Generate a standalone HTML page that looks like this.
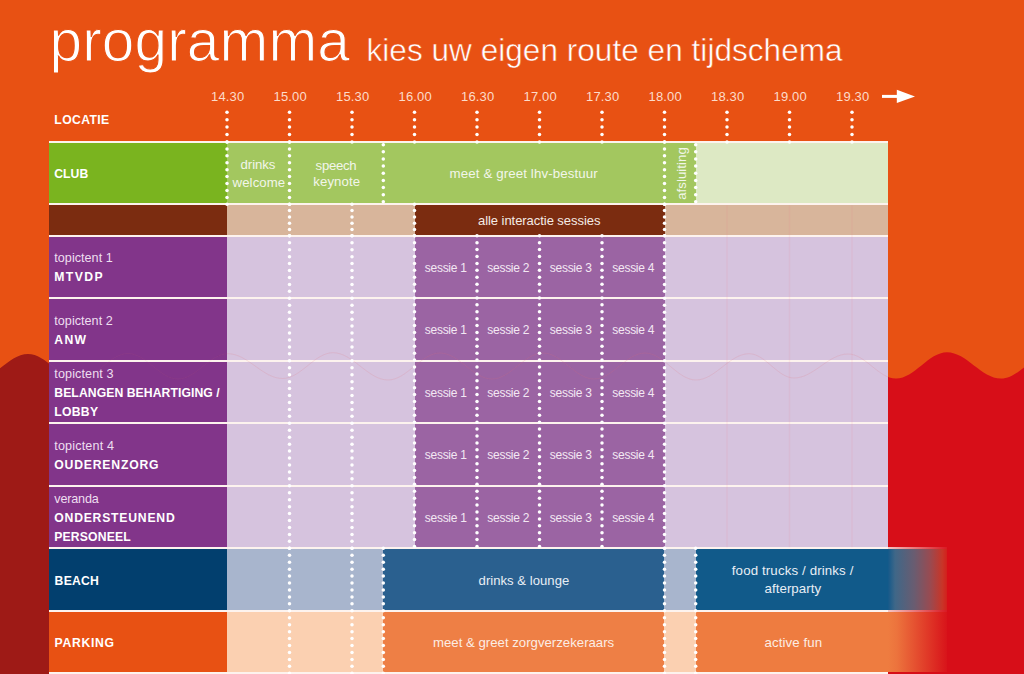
<!DOCTYPE html>
<html><head><meta charset="utf-8"><title>programma</title>
<style>
html,body{margin:0;padding:0;}
body{width:1024px;height:674px;overflow:hidden;background:#e85113;}
#root{position:relative;width:1024px;height:674px;overflow:hidden;background:#e85113;}
</style></head><body><div id="root">
<svg style="position:absolute;left:0;top:0" width="1024" height="674"><defs><linearGradient id="rg" gradientUnits="userSpaceOnUse" x1="0" x2="1024" y1="0" y2="0"><stop offset="0.05" stop-color="#9e1a16"/><stop offset="0.86" stop-color="#d70e18"/></linearGradient></defs><path d="M-23,674 L-23,378.6 C-4.4,378.6 9.4,354.0 28.0,354.0 C46.2,354.0 59.8,379.0 78.0,379.0 C96.2,379.0 109.8,353.5 128.0,353.5 C146.2,353.5 159.8,379.0 178.0,379.0 C196.2,379.0 209.8,353.7 228.0,353.7 C247.8,353.7 262.7,378.5 282.5,378.5 C300.9,378.5 314.6,352.7 333.0,352.7 C353.0,352.7 368.0,380.0 388.0,380.0 C406.9,380.0 421.1,353.0 440.0,353.0 C458.9,353.0 473.1,379.0 492.0,379.0 C510.6,379.0 524.4,353.0 543.0,353.0 C561.6,353.0 575.4,379.0 594.0,379.0 C612.6,379.0 626.4,353.0 645.0,353.0 C663.6,353.0 677.4,380.0 696.0,380.0 C715.3,380.0 729.7,353.7 749.0,353.7 C765.4,353.7 777.6,378.0 794.0,378.0 C813.7,378.0 828.3,354.0 848.0,354.0 C865.5,354.0 878.5,378.6 896.0,378.6 C914.6,378.6 928.4,352.3 947.0,352.3 C966.7,352.3 981.3,378.6 1001.0,378.6 C1019.6,378.6 1033.4,352.3 1052.0,352.3 L1052,674 Z" fill="url(#rg)"/></svg>
<div style="position:absolute;left:49.50px;top:41.00px;height:0;font:normal 58.5px/0 'Liberation Sans', sans-serif;letter-spacing:0.155px;color:#fff;white-space:nowrap;-webkit-text-stroke:1.1px #e85113;">programma</div>
<div style="position:absolute;left:366.50px;top:49.60px;height:0;font:normal 31.5px/0 'Liberation Sans', sans-serif;letter-spacing:0.047px;color:#fff;white-space:nowrap;-webkit-text-stroke:0.5px #e85113;">kies uw eigen route en tijdschema</div>
<div style="position:absolute;left:211.10px;top:97.10px;height:0;font:normal 13px/0 'Liberation Sans', sans-serif;letter-spacing:0.125px;color:#fcdccb;white-space:nowrap;">14.30</div>
<div style="position:absolute;left:273.60px;top:97.10px;height:0;font:normal 13px/0 'Liberation Sans', sans-serif;letter-spacing:0.125px;color:#fcdccb;white-space:nowrap;">15.00</div>
<div style="position:absolute;left:336.10px;top:97.10px;height:0;font:normal 13px/0 'Liberation Sans', sans-serif;letter-spacing:0.125px;color:#fcdccb;white-space:nowrap;">15.30</div>
<div style="position:absolute;left:398.60px;top:97.10px;height:0;font:normal 13px/0 'Liberation Sans', sans-serif;letter-spacing:0.125px;color:#fcdccb;white-space:nowrap;">16.00</div>
<div style="position:absolute;left:461.10px;top:97.10px;height:0;font:normal 13px/0 'Liberation Sans', sans-serif;letter-spacing:0.125px;color:#fcdccb;white-space:nowrap;">16.30</div>
<div style="position:absolute;left:523.60px;top:97.10px;height:0;font:normal 13px/0 'Liberation Sans', sans-serif;letter-spacing:0.125px;color:#fcdccb;white-space:nowrap;">17.00</div>
<div style="position:absolute;left:586.10px;top:97.10px;height:0;font:normal 13px/0 'Liberation Sans', sans-serif;letter-spacing:0.125px;color:#fcdccb;white-space:nowrap;">17.30</div>
<div style="position:absolute;left:648.60px;top:97.10px;height:0;font:normal 13px/0 'Liberation Sans', sans-serif;letter-spacing:0.125px;color:#fcdccb;white-space:nowrap;">18.00</div>
<div style="position:absolute;left:711.10px;top:97.10px;height:0;font:normal 13px/0 'Liberation Sans', sans-serif;letter-spacing:0.125px;color:#fcdccb;white-space:nowrap;">18.30</div>
<div style="position:absolute;left:773.60px;top:97.10px;height:0;font:normal 13px/0 'Liberation Sans', sans-serif;letter-spacing:0.125px;color:#fcdccb;white-space:nowrap;">19.00</div>
<div style="position:absolute;left:836.10px;top:97.10px;height:0;font:normal 13px/0 'Liberation Sans', sans-serif;letter-spacing:0.125px;color:#fcdccb;white-space:nowrap;">19.30</div>
<svg style="position:absolute;left:875px;top:85px" width="50" height="24"><path d="M7,11.4 H23" stroke="#fff" stroke-width="3"/><path d="M21.8,4.8 L40,11.4 L21.8,18 Z" fill="#fff"/></svg>
<div style="position:absolute;left:54.30px;top:120.00px;height:0;font:bold 12.2px/0 'Liberation Sans', sans-serif;letter-spacing:0.391px;color:#fff;white-space:nowrap;">LOCATIE</div>
<div style="position:absolute;left:49.00px;top:141.00px;width:839.00px;height:2.00px;background:#fdf3ee;"></div>
<div style="position:absolute;left:49.00px;top:203.30px;width:839.00px;height:2.00px;background:#fdf3ee;"></div>
<div style="position:absolute;left:49.00px;top:234.80px;width:839.00px;height:2.00px;background:#fdf3ee;"></div>
<div style="position:absolute;left:49.00px;top:297.30px;width:839.00px;height:2.00px;background:#fdf3ee;"></div>
<div style="position:absolute;left:49.00px;top:359.80px;width:839.00px;height:2.00px;background:#fdf3ee;"></div>
<div style="position:absolute;left:49.00px;top:422.30px;width:839.00px;height:2.00px;background:#fdf3ee;"></div>
<div style="position:absolute;left:49.00px;top:484.80px;width:839.00px;height:2.00px;background:#fdf3ee;"></div>
<div style="position:absolute;left:49.00px;top:547.30px;width:839.00px;height:2.00px;background:#fdf3ee;"></div>
<div style="position:absolute;left:49.00px;top:609.80px;width:839.00px;height:2.00px;background:#fdf3ee;"></div>
<div style="position:absolute;left:49.00px;top:672.30px;width:839.00px;height:2.00px;background:#fdf3ee;"></div>
<div style="position:absolute;left:49.00px;top:143.00px;width:839.00px;height:60.30px;background:#a3c75f;"></div>
<div style="position:absolute;left:49.00px;top:143.00px;width:178.00px;height:60.30px;background:#7ab41f;"></div>
<div style="position:absolute;left:695.70px;top:143.00px;width:192.30px;height:60.30px;background:#dde9c4;"></div>
<div style="position:absolute;left:54.30px;top:174.10px;height:0;font:bold 12.2px/0 'Liberation Sans', sans-serif;letter-spacing:0.018px;color:#fff;white-space:nowrap;">CLUB</div>
<div style="position:absolute;left:240.60px;top:164.75px;height:0;font:normal 13.2px/0 'Liberation Sans', sans-serif;letter-spacing:-0.077px;color:#f2f6ea;white-space:nowrap;">drinks</div>
<div style="position:absolute;left:232.60px;top:182.90px;height:0;font:normal 13.2px/0 'Liberation Sans', sans-serif;letter-spacing:0.083px;color:#f2f6ea;white-space:nowrap;">welcome</div>
<div style="position:absolute;left:315.60px;top:166.00px;height:0;font:normal 13.2px/0 'Liberation Sans', sans-serif;letter-spacing:-0.308px;color:#f2f6ea;white-space:nowrap;">speech</div>
<div style="position:absolute;left:313.30px;top:182.00px;height:0;font:normal 13.2px/0 'Liberation Sans', sans-serif;letter-spacing:0.091px;color:#f2f6ea;white-space:nowrap;">keynote</div>
<div style="position:absolute;left:449.60px;top:173.60px;height:0;font:normal 13.3px/0 'Liberation Sans', sans-serif;letter-spacing:0.110px;color:#f2f6ea;white-space:nowrap;">meet &amp; greet lhv-bestuur</div>
<div style="position:absolute;left:686.2px;top:199.9px;width:0;height:0;transform:rotate(-90deg);transform-origin:0 0;">
<div style="position:absolute;left:0.20px;top:-4.00px;height:0;font:normal 13.2px/0 'Liberation Sans', sans-serif;letter-spacing:0.054px;color:#f2f6ea;white-space:nowrap;">afsluiting</div>
</div>
<div style="position:absolute;left:49.00px;top:205.30px;width:839.00px;height:29.50px;background:#d8b59b;"></div>
<div style="position:absolute;left:49.00px;top:205.30px;width:178.00px;height:29.50px;background:#7b2c10;"></div>
<div style="position:absolute;left:414.50px;top:205.30px;width:250.00px;height:29.50px;background:#7b2c10;"></div>
<div style="position:absolute;left:478.00px;top:220.80px;height:0;font:normal 13px/0 'Liberation Sans', sans-serif;letter-spacing:-0.053px;color:#f5ebe5;white-space:nowrap;">alle interactie sessies</div>
<div style="position:absolute;left:49.00px;top:236.80px;width:839.00px;height:60.50px;background:#d6c3de;"></div>
<div style="position:absolute;left:49.00px;top:236.80px;width:178.00px;height:60.50px;background:#82358a;"></div>
<div style="position:absolute;left:414.50px;top:236.80px;width:250.00px;height:60.50px;background:#9b64a3;"></div>
<div style="position:absolute;left:54.30px;top:258.40px;height:0;font:normal 12.6px/0 'Liberation Sans', sans-serif;letter-spacing:0.029px;color:#eedff0;white-space:nowrap;">topictent 1</div>
<div style="position:absolute;left:54.30px;top:277.40px;height:0;font:bold 12.2px/0 'Liberation Sans', sans-serif;letter-spacing:1.418px;color:#fff;white-space:nowrap;">MTVDP</div>
<div style="position:absolute;left:424.75px;top:267.50px;height:0;font:normal 12px/0 'Liberation Sans', sans-serif;letter-spacing:-0.264px;color:#f3e8f3;white-space:nowrap;">sessie 1</div>
<div style="position:absolute;left:487.25px;top:267.50px;height:0;font:normal 12px/0 'Liberation Sans', sans-serif;letter-spacing:-0.264px;color:#f3e8f3;white-space:nowrap;">sessie 2</div>
<div style="position:absolute;left:549.75px;top:267.50px;height:0;font:normal 12px/0 'Liberation Sans', sans-serif;letter-spacing:-0.264px;color:#f3e8f3;white-space:nowrap;">sessie 3</div>
<div style="position:absolute;left:612.25px;top:267.50px;height:0;font:normal 12px/0 'Liberation Sans', sans-serif;letter-spacing:-0.264px;color:#f3e8f3;white-space:nowrap;">sessie 4</div>
<div style="position:absolute;left:49.00px;top:299.30px;width:839.00px;height:60.50px;background:#d6c3de;"></div>
<div style="position:absolute;left:49.00px;top:299.30px;width:178.00px;height:60.50px;background:#82358a;"></div>
<div style="position:absolute;left:414.50px;top:299.30px;width:250.00px;height:60.50px;background:#9b64a3;"></div>
<div style="position:absolute;left:54.30px;top:320.90px;height:0;font:normal 12.6px/0 'Liberation Sans', sans-serif;letter-spacing:0.029px;color:#eedff0;white-space:nowrap;">topictent 2</div>
<div style="position:absolute;left:54.30px;top:339.90px;height:0;font:bold 12.2px/0 'Liberation Sans', sans-serif;letter-spacing:1.349px;color:#fff;white-space:nowrap;">ANW</div>
<div style="position:absolute;left:424.75px;top:330.00px;height:0;font:normal 12px/0 'Liberation Sans', sans-serif;letter-spacing:-0.264px;color:#f3e8f3;white-space:nowrap;">sessie 1</div>
<div style="position:absolute;left:487.25px;top:330.00px;height:0;font:normal 12px/0 'Liberation Sans', sans-serif;letter-spacing:-0.264px;color:#f3e8f3;white-space:nowrap;">sessie 2</div>
<div style="position:absolute;left:549.75px;top:330.00px;height:0;font:normal 12px/0 'Liberation Sans', sans-serif;letter-spacing:-0.264px;color:#f3e8f3;white-space:nowrap;">sessie 3</div>
<div style="position:absolute;left:612.25px;top:330.00px;height:0;font:normal 12px/0 'Liberation Sans', sans-serif;letter-spacing:-0.264px;color:#f3e8f3;white-space:nowrap;">sessie 4</div>
<div style="position:absolute;left:49.00px;top:361.80px;width:839.00px;height:60.50px;background:#d6c3de;"></div>
<div style="position:absolute;left:49.00px;top:361.80px;width:178.00px;height:60.50px;background:#82358a;"></div>
<div style="position:absolute;left:414.50px;top:361.80px;width:250.00px;height:60.50px;background:#9b64a3;"></div>
<div style="position:absolute;left:54.30px;top:373.50px;height:0;font:normal 12.6px/0 'Liberation Sans', sans-serif;letter-spacing:0.109px;color:#eedff0;white-space:nowrap;">topictent 3</div>
<div style="position:absolute;left:54.30px;top:393.20px;height:0;font:bold 12.2px/0 'Liberation Sans', sans-serif;letter-spacing:0.073px;color:#fff;white-space:nowrap;">BELANGEN BEHARTIGING /</div>
<div style="position:absolute;left:54.30px;top:411.60px;height:0;font:bold 12.2px/0 'Liberation Sans', sans-serif;letter-spacing:0.268px;color:#fff;white-space:nowrap;">LOBBY</div>
<div style="position:absolute;left:424.75px;top:392.50px;height:0;font:normal 12px/0 'Liberation Sans', sans-serif;letter-spacing:-0.264px;color:#f3e8f3;white-space:nowrap;">sessie 1</div>
<div style="position:absolute;left:487.25px;top:392.50px;height:0;font:normal 12px/0 'Liberation Sans', sans-serif;letter-spacing:-0.264px;color:#f3e8f3;white-space:nowrap;">sessie 2</div>
<div style="position:absolute;left:549.75px;top:392.50px;height:0;font:normal 12px/0 'Liberation Sans', sans-serif;letter-spacing:-0.264px;color:#f3e8f3;white-space:nowrap;">sessie 3</div>
<div style="position:absolute;left:612.25px;top:392.50px;height:0;font:normal 12px/0 'Liberation Sans', sans-serif;letter-spacing:-0.264px;color:#f3e8f3;white-space:nowrap;">sessie 4</div>
<div style="position:absolute;left:49.00px;top:424.30px;width:839.00px;height:60.50px;background:#d6c3de;"></div>
<div style="position:absolute;left:49.00px;top:424.30px;width:178.00px;height:60.50px;background:#82358a;"></div>
<div style="position:absolute;left:414.50px;top:424.30px;width:250.00px;height:60.50px;background:#9b64a3;"></div>
<div style="position:absolute;left:54.30px;top:445.90px;height:0;font:normal 12.6px/0 'Liberation Sans', sans-serif;letter-spacing:0.159px;color:#eedff0;white-space:nowrap;">topictent 4</div>
<div style="position:absolute;left:54.30px;top:464.90px;height:0;font:bold 12.2px/0 'Liberation Sans', sans-serif;letter-spacing:0.813px;color:#fff;white-space:nowrap;">OUDERENZORG</div>
<div style="position:absolute;left:424.75px;top:455.00px;height:0;font:normal 12px/0 'Liberation Sans', sans-serif;letter-spacing:-0.264px;color:#f3e8f3;white-space:nowrap;">sessie 1</div>
<div style="position:absolute;left:487.25px;top:455.00px;height:0;font:normal 12px/0 'Liberation Sans', sans-serif;letter-spacing:-0.264px;color:#f3e8f3;white-space:nowrap;">sessie 2</div>
<div style="position:absolute;left:549.75px;top:455.00px;height:0;font:normal 12px/0 'Liberation Sans', sans-serif;letter-spacing:-0.264px;color:#f3e8f3;white-space:nowrap;">sessie 3</div>
<div style="position:absolute;left:612.25px;top:455.00px;height:0;font:normal 12px/0 'Liberation Sans', sans-serif;letter-spacing:-0.264px;color:#f3e8f3;white-space:nowrap;">sessie 4</div>
<div style="position:absolute;left:49.00px;top:486.80px;width:839.00px;height:60.50px;background:#d6c3de;"></div>
<div style="position:absolute;left:49.00px;top:486.80px;width:178.00px;height:60.50px;background:#82358a;"></div>
<div style="position:absolute;left:414.50px;top:486.80px;width:250.00px;height:60.50px;background:#9b64a3;"></div>
<div style="position:absolute;left:54.30px;top:498.50px;height:0;font:normal 12.6px/0 'Liberation Sans', sans-serif;letter-spacing:-0.168px;color:#eedff0;white-space:nowrap;">veranda</div>
<div style="position:absolute;left:54.30px;top:518.20px;height:0;font:bold 12.2px/0 'Liberation Sans', sans-serif;letter-spacing:0.779px;color:#fff;white-space:nowrap;">ONDERSTEUNEND</div>
<div style="position:absolute;left:54.30px;top:536.60px;height:0;font:bold 12.2px/0 'Liberation Sans', sans-serif;letter-spacing:0.159px;color:#fff;white-space:nowrap;">PERSONEEL</div>
<div style="position:absolute;left:424.75px;top:517.50px;height:0;font:normal 12px/0 'Liberation Sans', sans-serif;letter-spacing:-0.264px;color:#f3e8f3;white-space:nowrap;">sessie 1</div>
<div style="position:absolute;left:487.25px;top:517.50px;height:0;font:normal 12px/0 'Liberation Sans', sans-serif;letter-spacing:-0.264px;color:#f3e8f3;white-space:nowrap;">sessie 2</div>
<div style="position:absolute;left:549.75px;top:517.50px;height:0;font:normal 12px/0 'Liberation Sans', sans-serif;letter-spacing:-0.264px;color:#f3e8f3;white-space:nowrap;">sessie 3</div>
<div style="position:absolute;left:612.25px;top:517.50px;height:0;font:normal 12px/0 'Liberation Sans', sans-serif;letter-spacing:-0.264px;color:#f3e8f3;white-space:nowrap;">sessie 4</div>
<div style="position:absolute;left:49.00px;top:549.30px;width:839.00px;height:60.50px;background:#a8b5cd;"></div>
<div style="position:absolute;left:49.00px;top:549.30px;width:178.00px;height:60.50px;background:#023f6e;"></div>
<div style="position:absolute;left:383.30px;top:549.30px;width:281.20px;height:60.50px;background:#2a608f;"></div>
<div style="position:absolute;left:695.70px;top:549.30px;width:192.30px;height:60.50px;background:#115a8a;"></div>
<div style="position:absolute;left:888.00px;top:549.30px;width:59.00px;height:60.50px;background:linear-gradient(to right,#14598a,#3f6788 12%,#6a5c70 45%,#9a4a50 72%,#c83528 92%,#d3201c);"></div>
<div style="position:absolute;left:54.60px;top:580.50px;height:0;font:bold 12.2px/0 'Liberation Sans', sans-serif;letter-spacing:0.242px;color:#fff;white-space:nowrap;">BEACH</div>
<div style="position:absolute;left:478.60px;top:580.80px;height:0;font:normal 13.1px/0 'Liberation Sans', sans-serif;letter-spacing:0.030px;color:#e8eef5;white-space:nowrap;">drinks &amp; lounge</div>
<div style="position:absolute;left:731.80px;top:571.00px;height:0;font:normal 13.3px/0 'Liberation Sans', sans-serif;letter-spacing:0.125px;color:#e8eef5;white-space:nowrap;">food trucks / drinks /</div>
<div style="position:absolute;left:764.50px;top:589.00px;height:0;font:normal 13.3px/0 'Liberation Sans', sans-serif;letter-spacing:0.053px;color:#e8eef5;white-space:nowrap;">afterparty</div>
<div style="position:absolute;left:49.00px;top:611.80px;width:839.00px;height:60.50px;background:#fbd0b1;"></div>
<div style="position:absolute;left:49.00px;top:611.80px;width:178.00px;height:60.50px;background:#e85113;"></div>
<div style="position:absolute;left:383.30px;top:611.80px;width:281.20px;height:60.50px;background:#ee7f45;"></div>
<div style="position:absolute;left:695.70px;top:611.80px;width:192.30px;height:60.50px;background:#ee7c40;"></div>
<div style="position:absolute;left:888.00px;top:611.80px;width:59.00px;height:60.50px;background:linear-gradient(to right,rgba(238,124,64,1),rgba(238,124,64,0.92) 15%,rgba(238,124,64,0.05));"></div>
<div style="position:absolute;left:54.60px;top:642.80px;height:0;font:bold 12.2px/0 'Liberation Sans', sans-serif;letter-spacing:0.681px;color:#fff;white-space:nowrap;">PARKING</div>
<div style="position:absolute;left:433.00px;top:642.70px;height:0;font:normal 13.2px/0 'Liberation Sans', sans-serif;letter-spacing:0.006px;color:#fcede4;white-space:nowrap;">meet &amp; greet zorgverzekeraars</div>
<div style="position:absolute;left:764.60px;top:642.70px;height:0;font:normal 13.3px/0 'Liberation Sans', sans-serif;letter-spacing:0.076px;color:#fcede4;white-space:nowrap;">active fun</div>
<div style="position:absolute;left:888.00px;top:547.30px;width:59.00px;height:2.00px;background:linear-gradient(to right,rgba(253,243,238,0.8),rgba(253,243,238,0.05));"></div>
<div style="position:absolute;left:888.00px;top:609.80px;width:59.00px;height:2.00px;background:linear-gradient(to right,rgba(253,243,238,0.8),rgba(253,243,238,0.05));"></div>
<svg style="position:absolute;left:0;top:0" width="1024" height="674"><defs><clipPath id="tc"><rect x="227" y="297.3" width="661" height="187.5"/></clipPath><clipPath id="tl"><rect x="49" y="297.3" width="178" height="187.5"/></clipPath></defs><rect x="726.25" y="205.30" width="1.5" height="342.00" fill="rgba(235,120,140,0.10)"/><rect x="788.75" y="205.30" width="1.5" height="342.00" fill="rgba(235,120,140,0.10)"/><rect x="851.25" y="205.30" width="1.5" height="342.00" fill="rgba(235,120,140,0.10)"/><path d="M-23,674 L-23,378.6 C-4.4,378.6 9.4,354.0 28.0,354.0 C46.2,354.0 59.8,379.0 78.0,379.0 C96.2,379.0 109.8,353.5 128.0,353.5 C146.2,353.5 159.8,379.0 178.0,379.0 C196.2,379.0 209.8,353.7 228.0,353.7 C247.8,353.7 262.7,378.5 282.5,378.5 C300.9,378.5 314.6,352.7 333.0,352.7 C353.0,352.7 368.0,380.0 388.0,380.0 C406.9,380.0 421.1,353.0 440.0,353.0 C458.9,353.0 473.1,379.0 492.0,379.0 C510.6,379.0 524.4,353.0 543.0,353.0 C561.6,353.0 575.4,379.0 594.0,379.0 C612.6,379.0 626.4,353.0 645.0,353.0 C663.6,353.0 677.4,380.0 696.0,380.0 C715.3,380.0 729.7,353.7 749.0,353.7 C765.4,353.7 777.6,378.0 794.0,378.0 C813.7,378.0 828.3,354.0 848.0,354.0 C865.5,354.0 878.5,378.6 896.0,378.6 C914.6,378.6 928.4,352.3 947.0,352.3 C966.7,352.3 981.3,378.6 1001.0,378.6 C1019.6,378.6 1033.4,352.3 1052.0,352.3 L1052,674 Z" fill="none" stroke="rgba(230,110,120,0.16)" stroke-width="1" clip-path="url(#tc)"/><path d="M-23,674 L-23,378.6 C-4.4,378.6 9.4,354.0 28.0,354.0 C46.2,354.0 59.8,379.0 78.0,379.0 C96.2,379.0 109.8,353.5 128.0,353.5 C146.2,353.5 159.8,379.0 178.0,379.0 C196.2,379.0 209.8,353.7 228.0,353.7 C247.8,353.7 262.7,378.5 282.5,378.5 C300.9,378.5 314.6,352.7 333.0,352.7 C353.0,352.7 368.0,380.0 388.0,380.0 C406.9,380.0 421.1,353.0 440.0,353.0 C458.9,353.0 473.1,379.0 492.0,379.0 C510.6,379.0 524.4,353.0 543.0,353.0 C561.6,353.0 575.4,379.0 594.0,379.0 C612.6,379.0 626.4,353.0 645.0,353.0 C663.6,353.0 677.4,380.0 696.0,380.0 C715.3,380.0 729.7,353.7 749.0,353.7 C765.4,353.7 777.6,378.0 794.0,378.0 C813.7,378.0 828.3,354.0 848.0,354.0 C865.5,354.0 878.5,378.6 896.0,378.6 C914.6,378.6 928.4,352.3 947.0,352.3 C966.7,352.3 981.3,378.6 1001.0,378.6 C1019.6,378.6 1033.4,352.3 1052.0,352.3 L1052,674 Z" fill="none" stroke="rgba(230,110,120,0.07)" stroke-width="1" clip-path="url(#tl)"/></svg>
<svg style="position:absolute;left:0;top:0" width="1024" height="674" fill="#fff"><circle cx="227.00" cy="112.20" r="1.75"/><circle cx="227.00" cy="119.65" r="1.75"/><circle cx="227.00" cy="127.10" r="1.75"/><circle cx="227.00" cy="134.55" r="1.75"/><circle cx="227.00" cy="142.00" r="1.75"/><circle cx="289.50" cy="112.20" r="1.75"/><circle cx="289.50" cy="119.65" r="1.75"/><circle cx="289.50" cy="127.10" r="1.75"/><circle cx="289.50" cy="134.55" r="1.75"/><circle cx="289.50" cy="142.00" r="1.75"/><circle cx="352.00" cy="112.20" r="1.75"/><circle cx="352.00" cy="119.65" r="1.75"/><circle cx="352.00" cy="127.10" r="1.75"/><circle cx="352.00" cy="134.55" r="1.75"/><circle cx="352.00" cy="142.00" r="1.75"/><circle cx="414.50" cy="112.20" r="1.75"/><circle cx="414.50" cy="119.65" r="1.75"/><circle cx="414.50" cy="127.10" r="1.75"/><circle cx="414.50" cy="134.55" r="1.75"/><circle cx="414.50" cy="142.00" r="1.75"/><circle cx="477.00" cy="112.20" r="1.75"/><circle cx="477.00" cy="119.65" r="1.75"/><circle cx="477.00" cy="127.10" r="1.75"/><circle cx="477.00" cy="134.55" r="1.75"/><circle cx="477.00" cy="142.00" r="1.75"/><circle cx="539.50" cy="112.20" r="1.75"/><circle cx="539.50" cy="119.65" r="1.75"/><circle cx="539.50" cy="127.10" r="1.75"/><circle cx="539.50" cy="134.55" r="1.75"/><circle cx="539.50" cy="142.00" r="1.75"/><circle cx="602.00" cy="112.20" r="1.75"/><circle cx="602.00" cy="119.65" r="1.75"/><circle cx="602.00" cy="127.10" r="1.75"/><circle cx="602.00" cy="134.55" r="1.75"/><circle cx="602.00" cy="142.00" r="1.75"/><circle cx="664.50" cy="112.20" r="1.75"/><circle cx="664.50" cy="119.65" r="1.75"/><circle cx="664.50" cy="127.10" r="1.75"/><circle cx="664.50" cy="134.55" r="1.75"/><circle cx="664.50" cy="142.00" r="1.75"/><circle cx="727.00" cy="112.20" r="1.75"/><circle cx="727.00" cy="119.65" r="1.75"/><circle cx="727.00" cy="127.10" r="1.75"/><circle cx="727.00" cy="134.55" r="1.75"/><circle cx="727.00" cy="142.00" r="1.75"/><circle cx="789.50" cy="112.20" r="1.75"/><circle cx="789.50" cy="119.65" r="1.75"/><circle cx="789.50" cy="127.10" r="1.75"/><circle cx="789.50" cy="134.55" r="1.75"/><circle cx="789.50" cy="142.00" r="1.75"/><circle cx="852.00" cy="112.20" r="1.75"/><circle cx="852.00" cy="119.65" r="1.75"/><circle cx="852.00" cy="127.10" r="1.75"/><circle cx="852.00" cy="134.55" r="1.75"/><circle cx="852.00" cy="142.00" r="1.75"/><circle cx="227.00" cy="142.00" r="1.75"/><circle cx="227.00" cy="148.92" r="1.75"/><circle cx="227.00" cy="155.84" r="1.75"/><circle cx="227.00" cy="162.77" r="1.75"/><circle cx="227.00" cy="169.69" r="1.75"/><circle cx="227.00" cy="176.61" r="1.75"/><circle cx="227.00" cy="183.53" r="1.75"/><circle cx="227.00" cy="190.46" r="1.75"/><circle cx="227.00" cy="197.38" r="1.75"/><circle cx="227.00" cy="204.30" r="1.75"/><circle cx="289.50" cy="142.00" r="1.75"/><circle cx="289.50" cy="148.92" r="1.75"/><circle cx="289.50" cy="155.84" r="1.75"/><circle cx="289.50" cy="162.77" r="1.75"/><circle cx="289.50" cy="169.69" r="1.75"/><circle cx="289.50" cy="176.61" r="1.75"/><circle cx="289.50" cy="183.53" r="1.75"/><circle cx="289.50" cy="190.46" r="1.75"/><circle cx="289.50" cy="197.38" r="1.75"/><circle cx="289.50" cy="204.30" r="1.75"/><circle cx="664.50" cy="142.00" r="1.75"/><circle cx="664.50" cy="148.92" r="1.75"/><circle cx="664.50" cy="155.84" r="1.75"/><circle cx="664.50" cy="162.77" r="1.75"/><circle cx="664.50" cy="169.69" r="1.75"/><circle cx="664.50" cy="176.61" r="1.75"/><circle cx="664.50" cy="183.53" r="1.75"/><circle cx="664.50" cy="190.46" r="1.75"/><circle cx="664.50" cy="197.38" r="1.75"/><circle cx="664.50" cy="204.30" r="1.75"/><circle cx="383.30" cy="144.70" r="1.75"/><circle cx="383.30" cy="151.84" r="1.75"/><circle cx="383.30" cy="158.97" r="1.75"/><circle cx="383.30" cy="166.11" r="1.75"/><circle cx="383.30" cy="173.25" r="1.75"/><circle cx="383.30" cy="180.39" r="1.75"/><circle cx="383.30" cy="187.53" r="1.75"/><circle cx="383.30" cy="194.66" r="1.75"/><circle cx="383.30" cy="201.80" r="1.75"/><circle cx="695.70" cy="144.70" r="1.75"/><circle cx="695.70" cy="151.84" r="1.75"/><circle cx="695.70" cy="158.97" r="1.75"/><circle cx="695.70" cy="166.11" r="1.75"/><circle cx="695.70" cy="173.25" r="1.75"/><circle cx="695.70" cy="180.39" r="1.75"/><circle cx="695.70" cy="187.53" r="1.75"/><circle cx="695.70" cy="194.66" r="1.75"/><circle cx="695.70" cy="201.80" r="1.75"/><circle cx="289.50" cy="204.30" r="1.75"/><circle cx="289.50" cy="210.60" r="1.75"/><circle cx="289.50" cy="216.90" r="1.75"/><circle cx="289.50" cy="223.20" r="1.75"/><circle cx="289.50" cy="229.50" r="1.75"/><circle cx="289.50" cy="235.80" r="1.75"/><circle cx="352.00" cy="204.30" r="1.75"/><circle cx="352.00" cy="210.60" r="1.75"/><circle cx="352.00" cy="216.90" r="1.75"/><circle cx="352.00" cy="223.20" r="1.75"/><circle cx="352.00" cy="229.50" r="1.75"/><circle cx="352.00" cy="235.80" r="1.75"/><circle cx="414.50" cy="204.30" r="1.75"/><circle cx="414.50" cy="210.60" r="1.75"/><circle cx="414.50" cy="216.90" r="1.75"/><circle cx="414.50" cy="223.20" r="1.75"/><circle cx="414.50" cy="229.50" r="1.75"/><circle cx="414.50" cy="235.80" r="1.75"/><circle cx="664.50" cy="204.30" r="1.75"/><circle cx="664.50" cy="210.60" r="1.75"/><circle cx="664.50" cy="216.90" r="1.75"/><circle cx="664.50" cy="223.20" r="1.75"/><circle cx="664.50" cy="229.50" r="1.75"/><circle cx="664.50" cy="235.80" r="1.75"/><circle cx="289.50" cy="235.80" r="1.75"/><circle cx="289.50" cy="242.74" r="1.75"/><circle cx="289.50" cy="249.69" r="1.75"/><circle cx="289.50" cy="256.63" r="1.75"/><circle cx="289.50" cy="263.58" r="1.75"/><circle cx="289.50" cy="270.52" r="1.75"/><circle cx="289.50" cy="277.47" r="1.75"/><circle cx="289.50" cy="284.41" r="1.75"/><circle cx="289.50" cy="291.36" r="1.75"/><circle cx="289.50" cy="298.30" r="1.75"/><circle cx="289.50" cy="305.24" r="1.75"/><circle cx="289.50" cy="312.19" r="1.75"/><circle cx="289.50" cy="319.13" r="1.75"/><circle cx="289.50" cy="326.08" r="1.75"/><circle cx="289.50" cy="333.02" r="1.75"/><circle cx="289.50" cy="339.97" r="1.75"/><circle cx="289.50" cy="346.91" r="1.75"/><circle cx="289.50" cy="353.86" r="1.75"/><circle cx="289.50" cy="360.80" r="1.75"/><circle cx="289.50" cy="367.74" r="1.75"/><circle cx="289.50" cy="374.69" r="1.75"/><circle cx="289.50" cy="381.63" r="1.75"/><circle cx="289.50" cy="388.58" r="1.75"/><circle cx="289.50" cy="395.52" r="1.75"/><circle cx="289.50" cy="402.47" r="1.75"/><circle cx="289.50" cy="409.41" r="1.75"/><circle cx="289.50" cy="416.36" r="1.75"/><circle cx="289.50" cy="423.30" r="1.75"/><circle cx="289.50" cy="430.24" r="1.75"/><circle cx="289.50" cy="437.19" r="1.75"/><circle cx="289.50" cy="444.13" r="1.75"/><circle cx="289.50" cy="451.08" r="1.75"/><circle cx="289.50" cy="458.02" r="1.75"/><circle cx="289.50" cy="464.97" r="1.75"/><circle cx="289.50" cy="471.91" r="1.75"/><circle cx="289.50" cy="478.86" r="1.75"/><circle cx="289.50" cy="485.80" r="1.75"/><circle cx="289.50" cy="492.74" r="1.75"/><circle cx="289.50" cy="499.69" r="1.75"/><circle cx="289.50" cy="506.63" r="1.75"/><circle cx="289.50" cy="513.58" r="1.75"/><circle cx="289.50" cy="520.52" r="1.75"/><circle cx="289.50" cy="527.47" r="1.75"/><circle cx="289.50" cy="534.41" r="1.75"/><circle cx="289.50" cy="541.36" r="1.75"/><circle cx="289.50" cy="548.30" r="1.75"/><circle cx="352.00" cy="235.80" r="1.75"/><circle cx="352.00" cy="242.74" r="1.75"/><circle cx="352.00" cy="249.69" r="1.75"/><circle cx="352.00" cy="256.63" r="1.75"/><circle cx="352.00" cy="263.58" r="1.75"/><circle cx="352.00" cy="270.52" r="1.75"/><circle cx="352.00" cy="277.47" r="1.75"/><circle cx="352.00" cy="284.41" r="1.75"/><circle cx="352.00" cy="291.36" r="1.75"/><circle cx="352.00" cy="298.30" r="1.75"/><circle cx="352.00" cy="305.24" r="1.75"/><circle cx="352.00" cy="312.19" r="1.75"/><circle cx="352.00" cy="319.13" r="1.75"/><circle cx="352.00" cy="326.08" r="1.75"/><circle cx="352.00" cy="333.02" r="1.75"/><circle cx="352.00" cy="339.97" r="1.75"/><circle cx="352.00" cy="346.91" r="1.75"/><circle cx="352.00" cy="353.86" r="1.75"/><circle cx="352.00" cy="360.80" r="1.75"/><circle cx="352.00" cy="367.74" r="1.75"/><circle cx="352.00" cy="374.69" r="1.75"/><circle cx="352.00" cy="381.63" r="1.75"/><circle cx="352.00" cy="388.58" r="1.75"/><circle cx="352.00" cy="395.52" r="1.75"/><circle cx="352.00" cy="402.47" r="1.75"/><circle cx="352.00" cy="409.41" r="1.75"/><circle cx="352.00" cy="416.36" r="1.75"/><circle cx="352.00" cy="423.30" r="1.75"/><circle cx="352.00" cy="430.24" r="1.75"/><circle cx="352.00" cy="437.19" r="1.75"/><circle cx="352.00" cy="444.13" r="1.75"/><circle cx="352.00" cy="451.08" r="1.75"/><circle cx="352.00" cy="458.02" r="1.75"/><circle cx="352.00" cy="464.97" r="1.75"/><circle cx="352.00" cy="471.91" r="1.75"/><circle cx="352.00" cy="478.86" r="1.75"/><circle cx="352.00" cy="485.80" r="1.75"/><circle cx="352.00" cy="492.74" r="1.75"/><circle cx="352.00" cy="499.69" r="1.75"/><circle cx="352.00" cy="506.63" r="1.75"/><circle cx="352.00" cy="513.58" r="1.75"/><circle cx="352.00" cy="520.52" r="1.75"/><circle cx="352.00" cy="527.47" r="1.75"/><circle cx="352.00" cy="534.41" r="1.75"/><circle cx="352.00" cy="541.36" r="1.75"/><circle cx="352.00" cy="548.30" r="1.75"/><circle cx="664.50" cy="235.80" r="1.75"/><circle cx="664.50" cy="242.74" r="1.75"/><circle cx="664.50" cy="249.69" r="1.75"/><circle cx="664.50" cy="256.63" r="1.75"/><circle cx="664.50" cy="263.58" r="1.75"/><circle cx="664.50" cy="270.52" r="1.75"/><circle cx="664.50" cy="277.47" r="1.75"/><circle cx="664.50" cy="284.41" r="1.75"/><circle cx="664.50" cy="291.36" r="1.75"/><circle cx="664.50" cy="298.30" r="1.75"/><circle cx="664.50" cy="305.24" r="1.75"/><circle cx="664.50" cy="312.19" r="1.75"/><circle cx="664.50" cy="319.13" r="1.75"/><circle cx="664.50" cy="326.08" r="1.75"/><circle cx="664.50" cy="333.02" r="1.75"/><circle cx="664.50" cy="339.97" r="1.75"/><circle cx="664.50" cy="346.91" r="1.75"/><circle cx="664.50" cy="353.86" r="1.75"/><circle cx="664.50" cy="360.80" r="1.75"/><circle cx="664.50" cy="367.74" r="1.75"/><circle cx="664.50" cy="374.69" r="1.75"/><circle cx="664.50" cy="381.63" r="1.75"/><circle cx="664.50" cy="388.58" r="1.75"/><circle cx="664.50" cy="395.52" r="1.75"/><circle cx="664.50" cy="402.47" r="1.75"/><circle cx="664.50" cy="409.41" r="1.75"/><circle cx="664.50" cy="416.36" r="1.75"/><circle cx="664.50" cy="423.30" r="1.75"/><circle cx="664.50" cy="430.24" r="1.75"/><circle cx="664.50" cy="437.19" r="1.75"/><circle cx="664.50" cy="444.13" r="1.75"/><circle cx="664.50" cy="451.08" r="1.75"/><circle cx="664.50" cy="458.02" r="1.75"/><circle cx="664.50" cy="464.97" r="1.75"/><circle cx="664.50" cy="471.91" r="1.75"/><circle cx="664.50" cy="478.86" r="1.75"/><circle cx="664.50" cy="485.80" r="1.75"/><circle cx="664.50" cy="492.74" r="1.75"/><circle cx="664.50" cy="499.69" r="1.75"/><circle cx="664.50" cy="506.63" r="1.75"/><circle cx="664.50" cy="513.58" r="1.75"/><circle cx="664.50" cy="520.52" r="1.75"/><circle cx="664.50" cy="527.47" r="1.75"/><circle cx="664.50" cy="534.41" r="1.75"/><circle cx="664.50" cy="541.36" r="1.75"/><circle cx="664.50" cy="548.30" r="1.75"/><circle cx="414.50" cy="235.80" r="1.75"/><circle cx="414.50" cy="242.70" r="1.75"/><circle cx="414.50" cy="249.61" r="1.75"/><circle cx="414.50" cy="256.51" r="1.75"/><circle cx="414.50" cy="263.42" r="1.75"/><circle cx="414.50" cy="270.32" r="1.75"/><circle cx="414.50" cy="277.23" r="1.75"/><circle cx="414.50" cy="284.13" r="1.75"/><circle cx="414.50" cy="291.04" r="1.75"/><circle cx="414.50" cy="297.94" r="1.75"/><circle cx="414.50" cy="304.84" r="1.75"/><circle cx="414.50" cy="311.75" r="1.75"/><circle cx="414.50" cy="318.65" r="1.75"/><circle cx="414.50" cy="325.56" r="1.75"/><circle cx="414.50" cy="332.46" r="1.75"/><circle cx="414.50" cy="339.37" r="1.75"/><circle cx="414.50" cy="346.27" r="1.75"/><circle cx="414.50" cy="353.18" r="1.75"/><circle cx="414.50" cy="360.08" r="1.75"/><circle cx="414.50" cy="366.98" r="1.75"/><circle cx="414.50" cy="373.89" r="1.75"/><circle cx="414.50" cy="380.79" r="1.75"/><circle cx="414.50" cy="387.70" r="1.75"/><circle cx="414.50" cy="394.60" r="1.75"/><circle cx="414.50" cy="401.51" r="1.75"/><circle cx="414.50" cy="408.41" r="1.75"/><circle cx="414.50" cy="415.32" r="1.75"/><circle cx="414.50" cy="422.22" r="1.75"/><circle cx="414.50" cy="429.12" r="1.75"/><circle cx="414.50" cy="436.03" r="1.75"/><circle cx="414.50" cy="442.93" r="1.75"/><circle cx="414.50" cy="449.84" r="1.75"/><circle cx="414.50" cy="456.74" r="1.75"/><circle cx="414.50" cy="463.65" r="1.75"/><circle cx="414.50" cy="470.55" r="1.75"/><circle cx="414.50" cy="477.46" r="1.75"/><circle cx="414.50" cy="484.36" r="1.75"/><circle cx="414.50" cy="491.26" r="1.75"/><circle cx="414.50" cy="498.17" r="1.75"/><circle cx="414.50" cy="505.07" r="1.75"/><circle cx="414.50" cy="511.98" r="1.75"/><circle cx="414.50" cy="518.88" r="1.75"/><circle cx="414.50" cy="525.79" r="1.75"/><circle cx="414.50" cy="532.69" r="1.75"/><circle cx="414.50" cy="539.60" r="1.75"/><circle cx="414.50" cy="546.50" r="1.75"/><circle cx="477.00" cy="235.80" r="1.75"/><circle cx="477.00" cy="242.70" r="1.75"/><circle cx="477.00" cy="249.61" r="1.75"/><circle cx="477.00" cy="256.51" r="1.75"/><circle cx="477.00" cy="263.42" r="1.75"/><circle cx="477.00" cy="270.32" r="1.75"/><circle cx="477.00" cy="277.23" r="1.75"/><circle cx="477.00" cy="284.13" r="1.75"/><circle cx="477.00" cy="291.04" r="1.75"/><circle cx="477.00" cy="297.94" r="1.75"/><circle cx="477.00" cy="304.84" r="1.75"/><circle cx="477.00" cy="311.75" r="1.75"/><circle cx="477.00" cy="318.65" r="1.75"/><circle cx="477.00" cy="325.56" r="1.75"/><circle cx="477.00" cy="332.46" r="1.75"/><circle cx="477.00" cy="339.37" r="1.75"/><circle cx="477.00" cy="346.27" r="1.75"/><circle cx="477.00" cy="353.18" r="1.75"/><circle cx="477.00" cy="360.08" r="1.75"/><circle cx="477.00" cy="366.98" r="1.75"/><circle cx="477.00" cy="373.89" r="1.75"/><circle cx="477.00" cy="380.79" r="1.75"/><circle cx="477.00" cy="387.70" r="1.75"/><circle cx="477.00" cy="394.60" r="1.75"/><circle cx="477.00" cy="401.51" r="1.75"/><circle cx="477.00" cy="408.41" r="1.75"/><circle cx="477.00" cy="415.32" r="1.75"/><circle cx="477.00" cy="422.22" r="1.75"/><circle cx="477.00" cy="429.12" r="1.75"/><circle cx="477.00" cy="436.03" r="1.75"/><circle cx="477.00" cy="442.93" r="1.75"/><circle cx="477.00" cy="449.84" r="1.75"/><circle cx="477.00" cy="456.74" r="1.75"/><circle cx="477.00" cy="463.65" r="1.75"/><circle cx="477.00" cy="470.55" r="1.75"/><circle cx="477.00" cy="477.46" r="1.75"/><circle cx="477.00" cy="484.36" r="1.75"/><circle cx="477.00" cy="491.26" r="1.75"/><circle cx="477.00" cy="498.17" r="1.75"/><circle cx="477.00" cy="505.07" r="1.75"/><circle cx="477.00" cy="511.98" r="1.75"/><circle cx="477.00" cy="518.88" r="1.75"/><circle cx="477.00" cy="525.79" r="1.75"/><circle cx="477.00" cy="532.69" r="1.75"/><circle cx="477.00" cy="539.60" r="1.75"/><circle cx="477.00" cy="546.50" r="1.75"/><circle cx="539.50" cy="235.80" r="1.75"/><circle cx="539.50" cy="242.70" r="1.75"/><circle cx="539.50" cy="249.61" r="1.75"/><circle cx="539.50" cy="256.51" r="1.75"/><circle cx="539.50" cy="263.42" r="1.75"/><circle cx="539.50" cy="270.32" r="1.75"/><circle cx="539.50" cy="277.23" r="1.75"/><circle cx="539.50" cy="284.13" r="1.75"/><circle cx="539.50" cy="291.04" r="1.75"/><circle cx="539.50" cy="297.94" r="1.75"/><circle cx="539.50" cy="304.84" r="1.75"/><circle cx="539.50" cy="311.75" r="1.75"/><circle cx="539.50" cy="318.65" r="1.75"/><circle cx="539.50" cy="325.56" r="1.75"/><circle cx="539.50" cy="332.46" r="1.75"/><circle cx="539.50" cy="339.37" r="1.75"/><circle cx="539.50" cy="346.27" r="1.75"/><circle cx="539.50" cy="353.18" r="1.75"/><circle cx="539.50" cy="360.08" r="1.75"/><circle cx="539.50" cy="366.98" r="1.75"/><circle cx="539.50" cy="373.89" r="1.75"/><circle cx="539.50" cy="380.79" r="1.75"/><circle cx="539.50" cy="387.70" r="1.75"/><circle cx="539.50" cy="394.60" r="1.75"/><circle cx="539.50" cy="401.51" r="1.75"/><circle cx="539.50" cy="408.41" r="1.75"/><circle cx="539.50" cy="415.32" r="1.75"/><circle cx="539.50" cy="422.22" r="1.75"/><circle cx="539.50" cy="429.12" r="1.75"/><circle cx="539.50" cy="436.03" r="1.75"/><circle cx="539.50" cy="442.93" r="1.75"/><circle cx="539.50" cy="449.84" r="1.75"/><circle cx="539.50" cy="456.74" r="1.75"/><circle cx="539.50" cy="463.65" r="1.75"/><circle cx="539.50" cy="470.55" r="1.75"/><circle cx="539.50" cy="477.46" r="1.75"/><circle cx="539.50" cy="484.36" r="1.75"/><circle cx="539.50" cy="491.26" r="1.75"/><circle cx="539.50" cy="498.17" r="1.75"/><circle cx="539.50" cy="505.07" r="1.75"/><circle cx="539.50" cy="511.98" r="1.75"/><circle cx="539.50" cy="518.88" r="1.75"/><circle cx="539.50" cy="525.79" r="1.75"/><circle cx="539.50" cy="532.69" r="1.75"/><circle cx="539.50" cy="539.60" r="1.75"/><circle cx="539.50" cy="546.50" r="1.75"/><circle cx="602.00" cy="235.80" r="1.75"/><circle cx="602.00" cy="242.70" r="1.75"/><circle cx="602.00" cy="249.61" r="1.75"/><circle cx="602.00" cy="256.51" r="1.75"/><circle cx="602.00" cy="263.42" r="1.75"/><circle cx="602.00" cy="270.32" r="1.75"/><circle cx="602.00" cy="277.23" r="1.75"/><circle cx="602.00" cy="284.13" r="1.75"/><circle cx="602.00" cy="291.04" r="1.75"/><circle cx="602.00" cy="297.94" r="1.75"/><circle cx="602.00" cy="304.84" r="1.75"/><circle cx="602.00" cy="311.75" r="1.75"/><circle cx="602.00" cy="318.65" r="1.75"/><circle cx="602.00" cy="325.56" r="1.75"/><circle cx="602.00" cy="332.46" r="1.75"/><circle cx="602.00" cy="339.37" r="1.75"/><circle cx="602.00" cy="346.27" r="1.75"/><circle cx="602.00" cy="353.18" r="1.75"/><circle cx="602.00" cy="360.08" r="1.75"/><circle cx="602.00" cy="366.98" r="1.75"/><circle cx="602.00" cy="373.89" r="1.75"/><circle cx="602.00" cy="380.79" r="1.75"/><circle cx="602.00" cy="387.70" r="1.75"/><circle cx="602.00" cy="394.60" r="1.75"/><circle cx="602.00" cy="401.51" r="1.75"/><circle cx="602.00" cy="408.41" r="1.75"/><circle cx="602.00" cy="415.32" r="1.75"/><circle cx="602.00" cy="422.22" r="1.75"/><circle cx="602.00" cy="429.12" r="1.75"/><circle cx="602.00" cy="436.03" r="1.75"/><circle cx="602.00" cy="442.93" r="1.75"/><circle cx="602.00" cy="449.84" r="1.75"/><circle cx="602.00" cy="456.74" r="1.75"/><circle cx="602.00" cy="463.65" r="1.75"/><circle cx="602.00" cy="470.55" r="1.75"/><circle cx="602.00" cy="477.46" r="1.75"/><circle cx="602.00" cy="484.36" r="1.75"/><circle cx="602.00" cy="491.26" r="1.75"/><circle cx="602.00" cy="498.17" r="1.75"/><circle cx="602.00" cy="505.07" r="1.75"/><circle cx="602.00" cy="511.98" r="1.75"/><circle cx="602.00" cy="518.88" r="1.75"/><circle cx="602.00" cy="525.79" r="1.75"/><circle cx="602.00" cy="532.69" r="1.75"/><circle cx="602.00" cy="539.60" r="1.75"/><circle cx="602.00" cy="546.50" r="1.75"/><circle cx="289.50" cy="548.30" r="1.75"/><circle cx="289.50" cy="555.24" r="1.75"/><circle cx="289.50" cy="562.19" r="1.75"/><circle cx="289.50" cy="569.13" r="1.75"/><circle cx="289.50" cy="576.08" r="1.75"/><circle cx="289.50" cy="583.02" r="1.75"/><circle cx="289.50" cy="589.97" r="1.75"/><circle cx="289.50" cy="596.91" r="1.75"/><circle cx="289.50" cy="603.86" r="1.75"/><circle cx="289.50" cy="610.80" r="1.75"/><circle cx="289.50" cy="617.74" r="1.75"/><circle cx="289.50" cy="624.69" r="1.75"/><circle cx="289.50" cy="631.63" r="1.75"/><circle cx="289.50" cy="638.58" r="1.75"/><circle cx="289.50" cy="645.52" r="1.75"/><circle cx="289.50" cy="652.47" r="1.75"/><circle cx="289.50" cy="659.41" r="1.75"/><circle cx="289.50" cy="666.36" r="1.75"/><circle cx="289.50" cy="673.30" r="1.75"/><circle cx="352.00" cy="548.30" r="1.75"/><circle cx="352.00" cy="555.24" r="1.75"/><circle cx="352.00" cy="562.19" r="1.75"/><circle cx="352.00" cy="569.13" r="1.75"/><circle cx="352.00" cy="576.08" r="1.75"/><circle cx="352.00" cy="583.02" r="1.75"/><circle cx="352.00" cy="589.97" r="1.75"/><circle cx="352.00" cy="596.91" r="1.75"/><circle cx="352.00" cy="603.86" r="1.75"/><circle cx="352.00" cy="610.80" r="1.75"/><circle cx="352.00" cy="617.74" r="1.75"/><circle cx="352.00" cy="624.69" r="1.75"/><circle cx="352.00" cy="631.63" r="1.75"/><circle cx="352.00" cy="638.58" r="1.75"/><circle cx="352.00" cy="645.52" r="1.75"/><circle cx="352.00" cy="652.47" r="1.75"/><circle cx="352.00" cy="659.41" r="1.75"/><circle cx="352.00" cy="666.36" r="1.75"/><circle cx="352.00" cy="673.30" r="1.75"/><circle cx="383.30" cy="548.30" r="1.75"/><circle cx="383.30" cy="555.24" r="1.75"/><circle cx="383.30" cy="562.19" r="1.75"/><circle cx="383.30" cy="569.13" r="1.75"/><circle cx="383.30" cy="576.08" r="1.75"/><circle cx="383.30" cy="583.02" r="1.75"/><circle cx="383.30" cy="589.97" r="1.75"/><circle cx="383.30" cy="596.91" r="1.75"/><circle cx="383.30" cy="603.86" r="1.75"/><circle cx="383.30" cy="610.80" r="1.75"/><circle cx="383.30" cy="617.74" r="1.75"/><circle cx="383.30" cy="624.69" r="1.75"/><circle cx="383.30" cy="631.63" r="1.75"/><circle cx="383.30" cy="638.58" r="1.75"/><circle cx="383.30" cy="645.52" r="1.75"/><circle cx="383.30" cy="652.47" r="1.75"/><circle cx="383.30" cy="659.41" r="1.75"/><circle cx="383.30" cy="666.36" r="1.75"/><circle cx="383.30" cy="673.30" r="1.75"/><circle cx="664.50" cy="548.30" r="1.75"/><circle cx="664.50" cy="555.24" r="1.75"/><circle cx="664.50" cy="562.19" r="1.75"/><circle cx="664.50" cy="569.13" r="1.75"/><circle cx="664.50" cy="576.08" r="1.75"/><circle cx="664.50" cy="583.02" r="1.75"/><circle cx="664.50" cy="589.97" r="1.75"/><circle cx="664.50" cy="596.91" r="1.75"/><circle cx="664.50" cy="603.86" r="1.75"/><circle cx="664.50" cy="610.80" r="1.75"/><circle cx="664.50" cy="617.74" r="1.75"/><circle cx="664.50" cy="624.69" r="1.75"/><circle cx="664.50" cy="631.63" r="1.75"/><circle cx="664.50" cy="638.58" r="1.75"/><circle cx="664.50" cy="645.52" r="1.75"/><circle cx="664.50" cy="652.47" r="1.75"/><circle cx="664.50" cy="659.41" r="1.75"/><circle cx="664.50" cy="666.36" r="1.75"/><circle cx="664.50" cy="673.30" r="1.75"/><circle cx="695.70" cy="548.30" r="1.75"/><circle cx="695.70" cy="555.24" r="1.75"/><circle cx="695.70" cy="562.19" r="1.75"/><circle cx="695.70" cy="569.13" r="1.75"/><circle cx="695.70" cy="576.08" r="1.75"/><circle cx="695.70" cy="583.02" r="1.75"/><circle cx="695.70" cy="589.97" r="1.75"/><circle cx="695.70" cy="596.91" r="1.75"/><circle cx="695.70" cy="603.86" r="1.75"/><circle cx="695.70" cy="610.80" r="1.75"/><circle cx="695.70" cy="617.74" r="1.75"/><circle cx="695.70" cy="624.69" r="1.75"/><circle cx="695.70" cy="631.63" r="1.75"/><circle cx="695.70" cy="638.58" r="1.75"/><circle cx="695.70" cy="645.52" r="1.75"/><circle cx="695.70" cy="652.47" r="1.75"/><circle cx="695.70" cy="659.41" r="1.75"/><circle cx="695.70" cy="666.36" r="1.75"/><circle cx="695.70" cy="673.30" r="1.75"/></svg>
</div></body></html>
